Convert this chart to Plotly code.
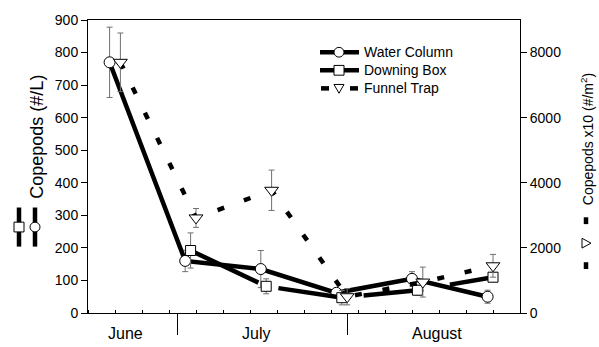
import plotly.graph_objects as go

# Sampling days (day of year) and copepod densities
wc_day = [169, 183, 197, 211, 225, 239]
wc_val = [770, 160, 135, 62, 105, 50]
wc_err = [108, 33, 57, 10, 22, 20]

db_day = [184, 198, 212, 226, 240]
db_val = [192, 82, 47, 70, 110]
db_err = [54, 23, 22, 15, 14]

ft_day = [171, 185, 199, 213, 227, 240]
ft_val = [7700, 2920, 3770, 500, 950, 1450]
ft_err = [900, 290, 620, 250, 460, 350]

month_names = ["June", "July", "August"]
month_label_day = [172.0, 196.2, 229.6]
month_break_day = [181.6, 213.1]

left_ticks = list(range(0, 901, 100))
right_ticks = [0, 2000, 4000, 6000, 8000]

FONT = "Liberation Sans, Arial, sans-serif"
W, H = 599, 347
ML, MR, MT, MB = 88, 79, 13, 34
PW, PH = W - ML - MR, H - MT - MB


def px(x):
    return (x - ML) / PW


def py(y):
    return (H - MB - y) / PH


err_style = dict(type="data", color="#707070", thickness=1, width=3)

fig = go.Figure()
fig.add_trace(go.Scatter(
    x=wc_day, y=wc_val, name="Water Column", mode="lines+markers",
    line=dict(color="black", width=4.5),
    marker=dict(symbol="circle", size=11, color="white", line=dict(color="black", width=1)),
    error_y=dict(array=wc_err, **err_style),
))
fig.add_trace(go.Scatter(
    x=db_day, y=db_val, name="Downing Box", mode="lines+markers",
    line=dict(color="black", width=4.5, dash="75px,21px,60px,26px,60px,27px,120px"),
    marker=dict(symbol="square", size=10, color="white", line=dict(color="black", width=1)),
    error_y=dict(array=db_err, **err_style),
))
fig.add_trace(go.Scatter(
    x=ft_day, y=ft_val, name="Funnel Trap", mode="lines+markers", yaxis="y2",
    line=dict(color="black", width=4.5, dash="7px,21px"),
    marker=dict(symbol="triangle-down", size=12, color="white", line=dict(color="black", width=1)),
    error_y=dict(array=ft_err, **err_style),
))

shapes = []
annotations = []


def key_line(x0, y0, x1, y1):
    shapes.append(dict(type="line", xref="paper", yref="paper",
                       x0=px(x0), y0=py(y0), x1=px(x1), y1=py(y1),
                       line=dict(color="black", width=4.5)))


def key_marker(kind, cx, cy, r=5):
    if kind in ("circle", "rect"):
        shapes.append(dict(type=kind, xref="paper", yref="paper",
                           x0=px(cx - r), x1=px(cx + r), y0=py(cy + r), y1=py(cy - r),
                           fillcolor="white", line=dict(color="black", width=1)))
    else:
        if kind == "tri-down":
            pts = [(cx - r, cy - r * 0.8), (cx + r, cy - r * 0.8), (cx, cy + r)]
        else:  # tri-right
            pts = [(cx - r * 0.8, cy - r), (cx - r * 0.8, cy + r), (cx + r, cy)]
        path = "M" + " L".join(f"{px(a):.5f},{py(b):.5f}" for a, b in pts) + " Z"
        shapes.append(dict(type="path", xref="paper", yref="paper", path=path,
                           fillcolor="white", line=dict(color="black", width=1)))


# Legend box entries
rows = [46, 64.5, 83]
lx0, lx1, lmid, ltext = 320, 359, 339, 362
key_line(lx0, rows[0], lx1, rows[0])
key_marker("circle", lmid, rows[0])
key_line(lx0, rows[1], lx1, rows[1])
key_marker("rect", lmid, rows[1])
key_line(lx0 + 1, rows[2], lx0 + 9, rows[2])
key_line(lx1 - 9, rows[2], lx1 - 1, rows[2])
key_marker("tri-down", lmid, rows[2])
for name, r in zip(["Water Column", "Downing Box", "Funnel Trap"], rows):
    annotations.append(dict(text=name, xref="paper", yref="paper", x=px(ltext), y=py(r),
                            xanchor="left", yanchor="middle", showarrow=False,
                            font=dict(family=FONT, size=14, color="black")))

# Keys beside the axis titles
key_line(19, 205, 19, 245)
key_marker("rect", 19, 225)
key_line(35, 205, 35, 245)
key_marker("circle", 35, 225)
key_line(586, 215, 586, 222)
key_line(586, 261, 586, 268)
key_marker("tri-right", 586, 241.5)

annotations.append(dict(text="Copepods (#/L)", xref="paper", yref="paper",
                        x=px(37.5), y=py(133), textangle=-90, showarrow=False,
                        xanchor="center", yanchor="middle",
                        font=dict(family=FONT, size=18, color="black")))
annotations.append(dict(text="Copepods x10 (#/m<sup>2</sup>)", xref="paper", yref="paper",
                        x=px(587), y=py(135), textangle=-90, showarrow=False,
                        xanchor="center", yanchor="middle",
                        font=dict(family=FONT, size=14, color="black")))

for name, d in zip(month_names, month_label_day):
    annotations.append(dict(text=name, xref="x", yref="paper", x=d, y=py(334),
                            xanchor="center", yanchor="middle", showarrow=False,
                            font=dict(family=FONT, size=16, color="black")))

axis_common = dict(showgrid=False, zeroline=False, showline=True, linecolor="black",
                   linewidth=1, tickcolor="black", tickwidth=1,
                   tickfont=dict(family=FONT, size=14, color="black"))

fig.update_layout(
    width=W, height=H,
    margin=dict(l=ML, r=MR, t=MT, b=MB, pad=0),
    paper_bgcolor="white", plot_bgcolor="white",
    showlegend=False,
    xaxis=dict(range=[165, 245], tickmode="array", tickvals=month_break_day,
               showticklabels=False, ticks="outside", ticklen=21, mirror=True,
               minor=dict(ticks="inside", dtick=5, tick0=165, ticklen=3,
                          tickcolor="black", showgrid=False),
               **axis_common),
    yaxis=dict(range=[0, 900], tickmode="array", tickvals=left_ticks,
               ticks="outside", ticklen=6, **axis_common),
    yaxis2=dict(range=[0, 9000], tickmode="array", tickvals=right_ticks,
                overlaying="y", side="right", ticks="outside", ticklen=6, **axis_common),
    shapes=shapes,
    annotations=annotations,
)

fig.write_html("out.html")
